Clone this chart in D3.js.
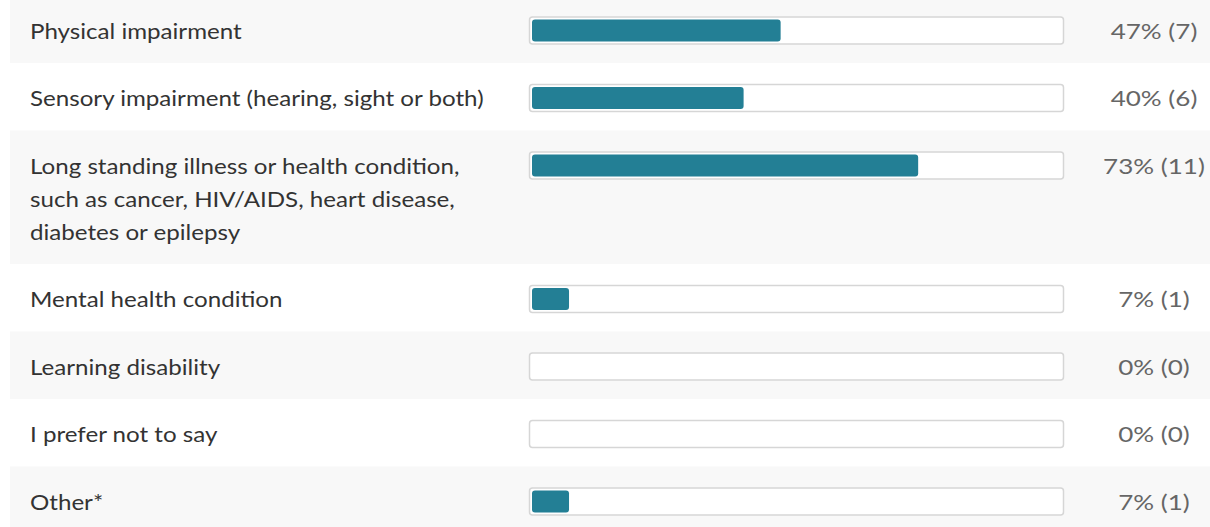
<!DOCTYPE html>
<html>
<head>
<meta charset="utf-8">
<script src="https://cdn.jsdelivr.net/npm/d3@7"></script>
<style>
  html, body { margin: 0; padding: 0; background: #ffffff; }
  svg { display: block; }
</style>
</head>
<body>
<svg id="chart" width="1210" height="527"></svg>
<script>
// Survey responses: answer options, share of respondents and counts
const categories = [
  ["Physical impairment"],
  ["Sensory impairment (hearing, sight or both)"],
  ["Long standing illness or health condition,", "such as cancer, HIV/AIDS, heart disease,", "diabetes or epilepsy"],
  ["Mental health condition"],
  ["Learning disability"],
  ["I prefer not to say"],
  ["Other*"]
];
const percents = [47, 40, 73, 7, 0, 0, 7];
const counts = [7, 6, 11, 1, 0, 0, 1];

const W = 1210, H = 527;
const svg = d3.select("#chart");
const FONT = "Lato, 'Open Sans', sans-serif";

const lineH = 33, rowPad = 34.5;
const rows = [];
let rowTop = -4.5;
categories.forEach((lines, i) => {
  const h = rowPad + lineH * lines.length;
  rows.push({ lines, pct: percents[i], n: counts[i], y0: rowTop, h, i });
  rowTop += h;
});

const trackX = 529, trackW = 535, trackH = 28, inset = 3;
const x = d3.scaleLinear().domain([0, 100]).range([0, trackW - inset * 2]);
const baseY = 43.5;

const g = svg.selectAll("g.row").data(rows).join("g")
  .attr("class", "row")
  .attr("transform", d => `translate(0,${d.y0})`);

// alternating row bands
g.append("rect")
  .attr("x", 10).attr("y", 0)
  .attr("width", W - 10).attr("height", d => d.h)
  .attr("fill", d => d.i % 2 === 0 ? "#f8f8f8" : "#ffffff");

// answer text (wrapped lines), slightly widened type
g.append("text")
  .attr("transform", "translate(30,0) scale(1.15,1)")
  .attr("font-family", FONT)
  .attr("font-size", 21)
  .attr("fill", "#333333")
  .selectAll("tspan").data(d => d.lines).join("tspan")
  .attr("x", 0)
  .attr("y", (t, j) => baseY + j * lineH)
  .text(t => t);

// bar track
g.append("rect")
  .attr("x", trackX + 0.5).attr("y", 21.5)
  .attr("width", trackW - 1).attr("height", trackH - 1)
  .attr("rx", 3)
  .attr("fill", "#ffffff")
  .attr("stroke", "#d6d6d6")
  .attr("stroke-width", 1.5);

// filled share
g.filter(d => d.pct > 0).append("rect")
  .attr("x", trackX + inset).attr("y", 21 + inset)
  .attr("width", d => x(d.pct)).attr("height", trackH - inset * 2)
  .attr("rx", 3)
  .attr("fill", "#237f95");

// percentage and count
g.append("text")
  .attr("transform", "translate(1154,0) scale(1.24,1)")
  .attr("x", 0).attr("y", baseY)
  .attr("text-anchor", "middle")
  .attr("font-family", FONT)
  .attr("font-size", 21)
  .attr("fill", "#666666")
  .text(d => `${d.pct}% (${d.n})`);
</script>
</body>
</html>
